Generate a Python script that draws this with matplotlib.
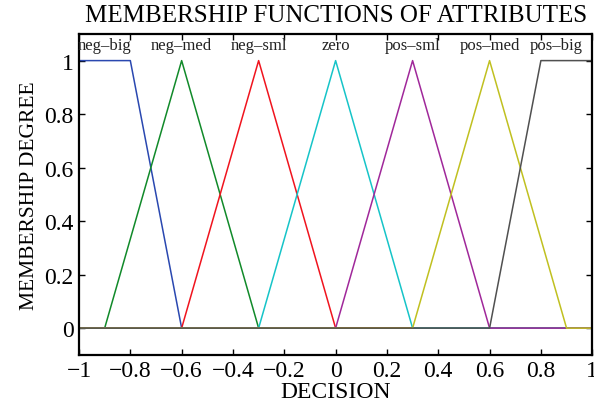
import matplotlib
matplotlib.use("Agg")
import matplotlib.pyplot as plt

names = ["neg–big", "neg–med", "neg–sml", "zero", "pos–sml", "pos–med", "pos–big"]
mf_x = [
    [-1.0, -0.8, -0.6, 1.0],
    [-1.0, -0.9, -0.6, -0.3, 1.0],
    [-1.0, -0.6, -0.3, 0.0, 1.0],
    [-1.0, -0.3, 0.0, 0.3, 1.0],
    [-1.0, 0.0, 0.3, 0.6, 1.0],
    [-1.0, 0.3, 0.6, 0.9, 1.0],
    [-1.0, 0.6, 0.8, 1.0],
]
mf_y = [
    [1, 1, 0, 0],
    [0, 0, 1, 0, 0],
    [0, 0, 1, 0, 0],
    [0, 0, 1, 0, 0],
    [0, 0, 1, 0, 0],
    [0, 0, 1, 0, 0],
    [0, 0, 1, 1],
]
label_x = [-0.9, -0.6, -0.3, 0.0, 0.3, 0.6, 0.86]
colors = ["#2a48b0", "#118a2a", "#f0141e", "#16c4c8", "#a0289a", "#c0c020", "#505050"]

xticks = [-1, -0.8, -0.6, -0.4, -0.2, 0, 0.2, 0.4, 0.6, 0.8, 1]
xticklabels = ["−1", "−0.8", "−0.6", "−0.4", "−0.2", "0", "0.2", "0.4", "0.6", "0.8", "1"]
yticks = [0, 0.2, 0.4, 0.6, 0.8, 1]
yticklabels = ["0", "0.2", "0.4", "0.6", "0.8", "1"]

plt.rcParams["font.family"] = ["Liberation Serif", "DejaVu Serif"]

fig = plt.figure(figsize=(5.94, 4.10), dpi=100)
ax = fig.add_axes([0.133, 0.132, 0.864, 0.783])

for xs, ys, c in zip(mf_x, mf_y, colors):
    ax.plot(xs, ys, color=c, lw=1.1)

for n, lx in zip(names, label_x):
    ax.text(lx, 1.06, n, ha="center", va="center", fontsize=12, color="#222222")

ax.set_xlim(-1, 1)
ax.set_ylim(-0.1, 1.1)
ax.set_xticks(xticks)
ax.set_xticklabels(xticklabels, fontsize=17)
ax.set_yticks(yticks)
ax.set_yticklabels(yticklabels, fontsize=17)
ax.tick_params(direction="in", top=True, right=True, length=4, width=1, pad=4)
for s in ax.spines.values():
    s.set_linewidth(1.6)

ax.set_xlabel("DECISION", fontsize=17, labelpad=0)
ax.set_ylabel("MEMBERSHIP DEGREE", fontsize=15.5, labelpad=4)
ax.set_title("MEMBERSHIP FUNCTIONS OF ATTRIBUTES", fontsize=18, pad=9)

fig.savefig("out.png", dpi=100)
